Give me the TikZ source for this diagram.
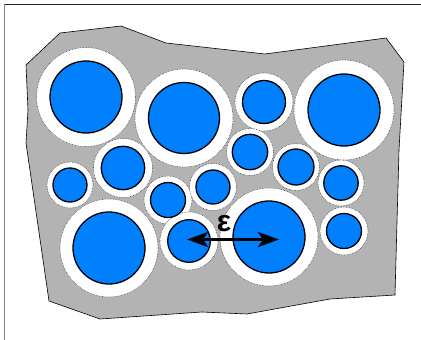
\documentclass[tikz,border=0pt]{standalone}
\usepackage{fontspec}
\newfontfamily\epsfont{Liberation Sans}
\usetikzlibrary{arrows.meta}
\definecolor{grain}{RGB}{0,128,255}
\definecolor{matrixgray}{RGB}{179,179,179}
\tikzset{
  halo/.style={fill=white, draw=black!75, line width=0.6pt, densely dotted},
  grainc/.style={fill=grain, draw=black, line width=1.3pt},
  matrixpoly/.style={fill=matrixgray, draw=black, line width=0.6pt},
  dim/.style={line width=2.8pt, {Stealth[length=21pt,width=15pt,inset=5pt]}-{Stealth[length=21pt,width=15pt,inset=5pt]}}
}
\begin{document}
\begin{tikzpicture}[x=1pt,y=-1pt]
\useasboundingbox (0,0) rectangle (421,340);
% frame
\draw[black!85, line width=1pt] (4,4.5) -- (421,4.5);
\draw[black!50, line width=1.6pt] (4.5,4) -- (4.5,340);
% matrix polygon
\draw[matrixpoly] (26,65) -- (60,33) -- (121,26) -- (166,43) -- (265,54) -- (386,38) -- (404,62) -- (399,150) -- (395,295) -- (330,299) -- (247,314) -- (202,312) -- (100,319) -- (49,301) -- (26,143) -- (28,110) -- cycle;
% halos
\foreach \x/\y/\r in {86/97/49.5, 184/118/49, 264/102/29, 344/110/50,
  70/185/23, 123/168/29.5, 168/200/24, 213/187/23.5, 250/152/23.5,
  296/167/23.5, 341/183/23, 109/248/49, 189/241/29, 269/237/49, 344/231/24}
  \draw[halo] (\x,\y) circle[radius=\r];
% grains
\foreach \x/\y/\r in {86/97/36, 184/118/35.5, 264/102/21.5, 344/110/36,
  70/185/17, 123/168/21.7, 168/200/17.5, 213/187/17, 250/152/17.7,
  296/167/18, 341/183/17.2, 109/248/36, 189/241/21.3, 269/237/36, 344/231/17.5}
  \draw[grainc] (\x,\y) circle[radius=\r];
% distance arrow
\coordinate (a) at (187,239.5);
\coordinate (b) at (279,239.5);
\draw[dim] (a) -- (b);
\node[font=\epsfont\bfseries\fontsize{30}{30}\selectfont, inner sep=0pt] (eps) at (224,224) {ε};
\end{tikzpicture}
\end{document}
